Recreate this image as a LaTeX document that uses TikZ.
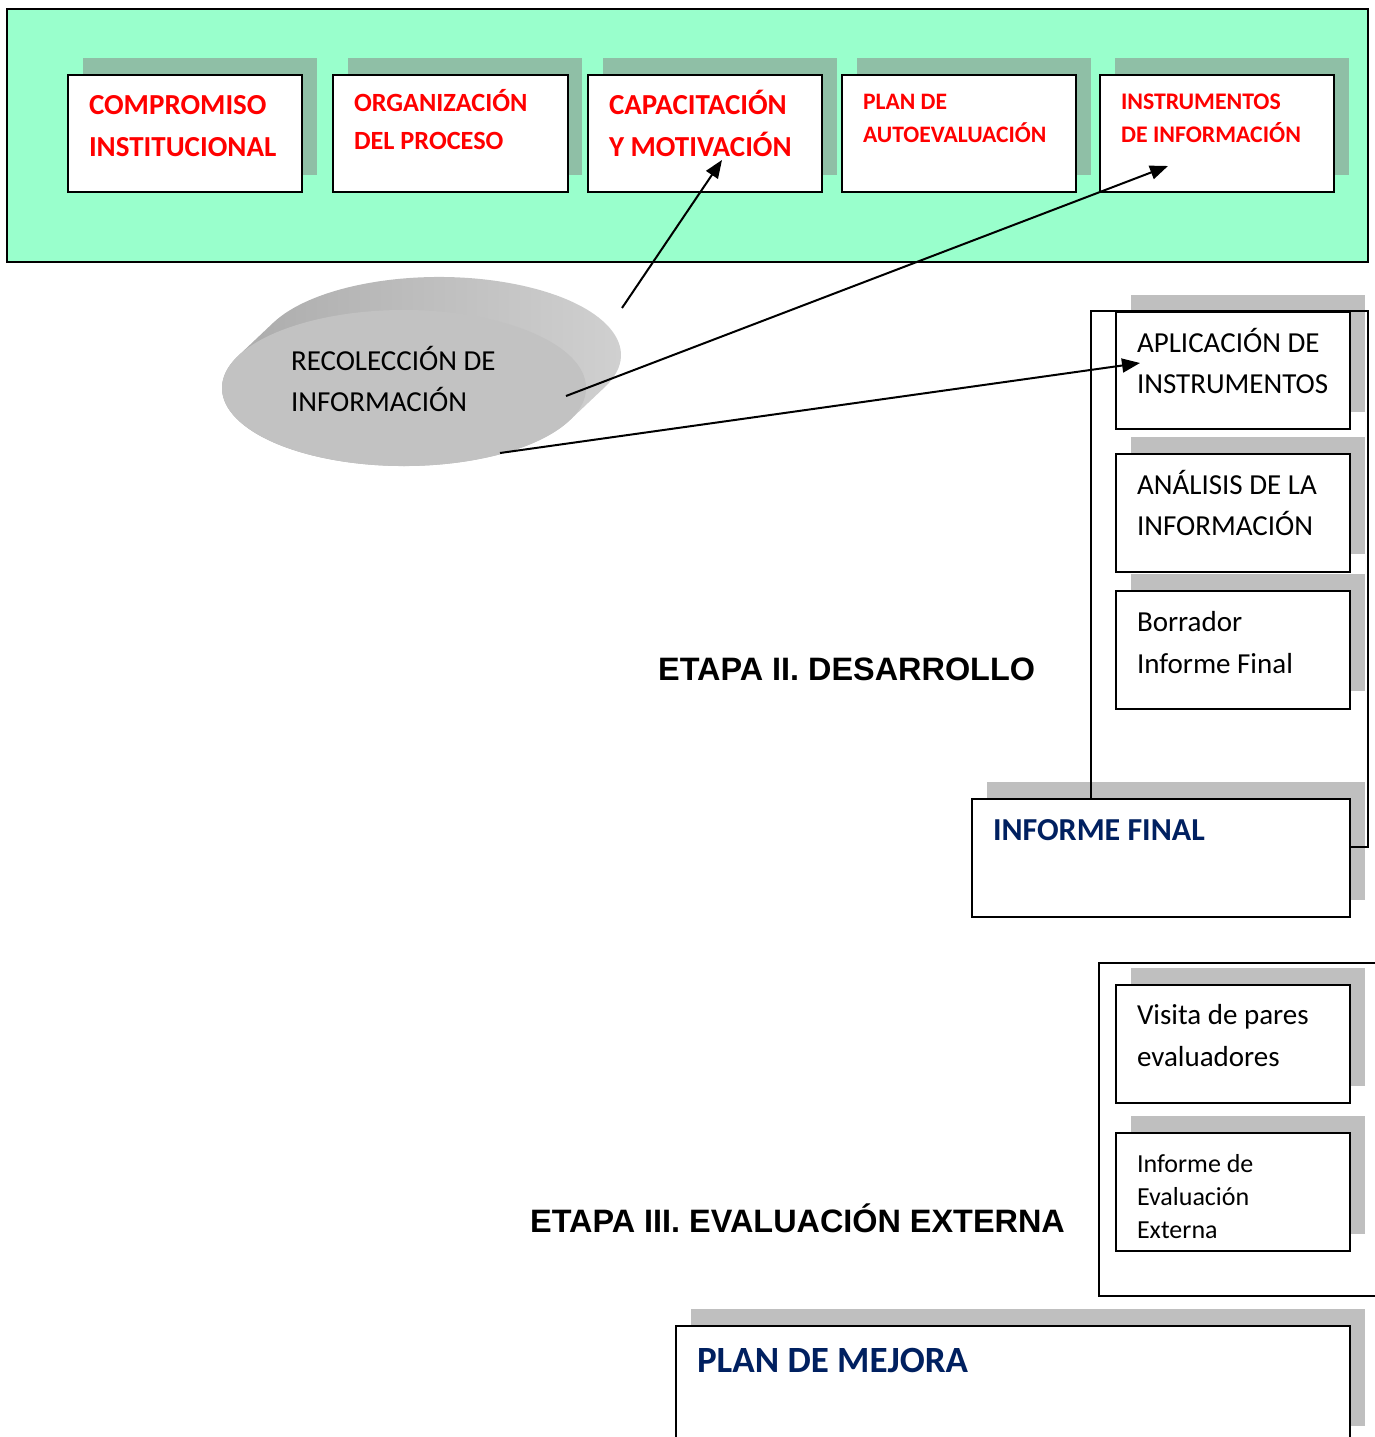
\documentclass[tikz,border=0pt]{standalone}
\usepackage{fontspec}
\setmainfont{Carlito}
\newfontfamily\arialfont{Liberation Sans}
\usepackage{xcolor}
\usetikzlibrary{arrows.meta}
\usetikzlibrary{shapes.geometric}

\definecolor{verdefondo}{HTML}{99FFCC}
\definecolor{verdesombra}{HTML}{8FBFA6}
\definecolor{grissombra}{HTML}{BFBFBF}
\definecolor{azulinf}{HTML}{002060}

\tikzset{
  caja/.style n args={3}{draw, line width=2pt, fill=white, anchor=north west,
    inner xsep=21pt, inner ysep=0pt, align=left,
    execute at begin node={\spaceskip 0pt\relax},
    text width=#1pt, text height=#2pt, text depth=#3pt},
  rojo/.style 2 args={text=red, font=\bfseries\fontsize{#1}{#2}\selectfont},
  negro/.style 2 args={text=black, font=\fontsize{#1}{#2}\selectfont},
  azul/.style={text=azulinf, font=\bfseries\fontsize{#1}{#1}\selectfont},
  etapa/.style={anchor=base west, inner sep=0pt, font=\arialfont\bfseries\fontsize{32.4}{38}\selectfont},
  marco/.style={draw, line width=1.5pt},
  flecha/.style={line width=2pt, -{Triangle[length=18pt,width=14pt]}},
  disco/.style={ellipse, fill=gray!48, minimum width=364pt, minimum height=156pt,
    inner sep=0pt, align=left, text width=226pt, text height=24pt, text depth=60pt,
    execute at begin node={\spaceskip 0pt\relax},
    font=\fontsize{29}{41}\selectfont}
}

\begin{document}
\begin{tikzpicture}[x=1pt, y=1pt]

\useasboundingbox (0,0) rectangle (1375,-1437);

% ETAPA I
{
\draw[line width=2pt, fill=verdefondo] (7,-9) rectangle (1368,-262);

\foreach \x in {67,332,587,841,1099}
  \fill[verdesombra] (\x+16,-58) rectangle ++(234,-117);

\node[caja={192}{39}{78}, rojo={29}{42}] (compromiso) at (67,-74) {COMPROMISO\\INSTITUCIONAL};
\node[caja={193}{36}{81}, rojo={26.3}{38}] (organizacion) at (332,-74) {ORGANIZACIÓN\\DEL PROCESO};
\node[caja={192}{39}{78}, rojo={29}{42}] (capacitacion) at (587,-74) {CAPACITACIÓN\\Y MOTIVACIÓN};
\node[caja={192}{34}{83}, rojo={23.6}{33}] (plan) at (841,-74) {PLAN DE\\AUTOEVALUACIÓN};
\node[caja={192}{34}{83}, rojo={23.8}{33}] (instrumentos) at (1099,-74) {INSTRUMENTOS\\DE INFORMACIÓN};
}

%gray shadows
{
\foreach \y in {311,453,590}
  \fill[grissombra] (1131,-\y+16) rectangle ++(234,-117);
\fill[grissombra] (987,-782) rectangle ++(378,-118);
\foreach \y in {984,1132}
  \fill[grissombra] (1131,-\y+16) rectangle ++(234,-118);
\fill[grissombra] (691,-1309) rectangle ++(674,-117);
}

\draw[marco] (1091,-311) rectangle (1368,-847);
\draw[marco] (1099,-963) rectangle (1385,-1296);

% ETAPA II
{
\node[caja={192}{40}{77}, negro={29}{41}] (aplicacion) at (1115,-311) {APLICACIÓN DE\\INSTRUMENTOS};
\node[caja={192}{40}{78}, negro={29}{41}] (analisis) at (1115,-453) {ANÁLISIS DE LA\\INFORMACIÓN};
\node[caja={192}{40}{78}, negro={29}{42}] (borrador) at (1115,-590) {Borrador\\Informe Final};
\node[caja={336}{41}{77}, azul=32] (informe) at (971,-798) {INFORME FINAL};
}

% ETAPA III
{
\node[caja={192}{39}{79}, negro={29}{42}] (visita) at (1115,-984) {Visita de pares\\evaluadores};
\node[caja={192}{39}{79}, negro={26}{33}] (externo) at (1115,-1132) {Informe de\\Evaluación\\Externa};
\node[caja={632}{46}{71}, azul=37] (mejora) at (675,-1325) {PLAN DE MEJORA};
}

% disco
{
\shade[left color=gray!68, middle color=gray!82, right color=gray!35]
  (604.7,-387.2) arc[start angle=-24.4, end angle=155.6, x radius=182, y radius=78]
  -- (238.3,-355.8) arc[start angle=155.6, end angle=335.6, x radius=182, y radius=78]
  -- cycle;
\node[disco] (recoleccion) at (404,-388) {RECOLECCIÓN DE\\INFORMACIÓN};
}

% nodes
{
\node[etapa] (desarrollo) at (658,-680) {ETAPA II. DESARROLLO};
\node[etapa] (evaluacion) at (530,-1232) {ETAPA III. EVALUACIÓN EXTERNA};
}

%arrows
{
\coordinate (r1) at (622,-308);
\coordinate (r2) at (566,-396);
\coordinate (r3) at (500,-453);
\coordinate (c1) at (722,-160);
\coordinate (c2) at (1168,-166);
\coordinate (c3) at (1140,-363);

\draw[flecha] (r1) -- (c1);
\draw[flecha] (r2) -- (c2);
\draw[flecha] (r3) -- (c3);
}

\end{tikzpicture}
\end{document}
